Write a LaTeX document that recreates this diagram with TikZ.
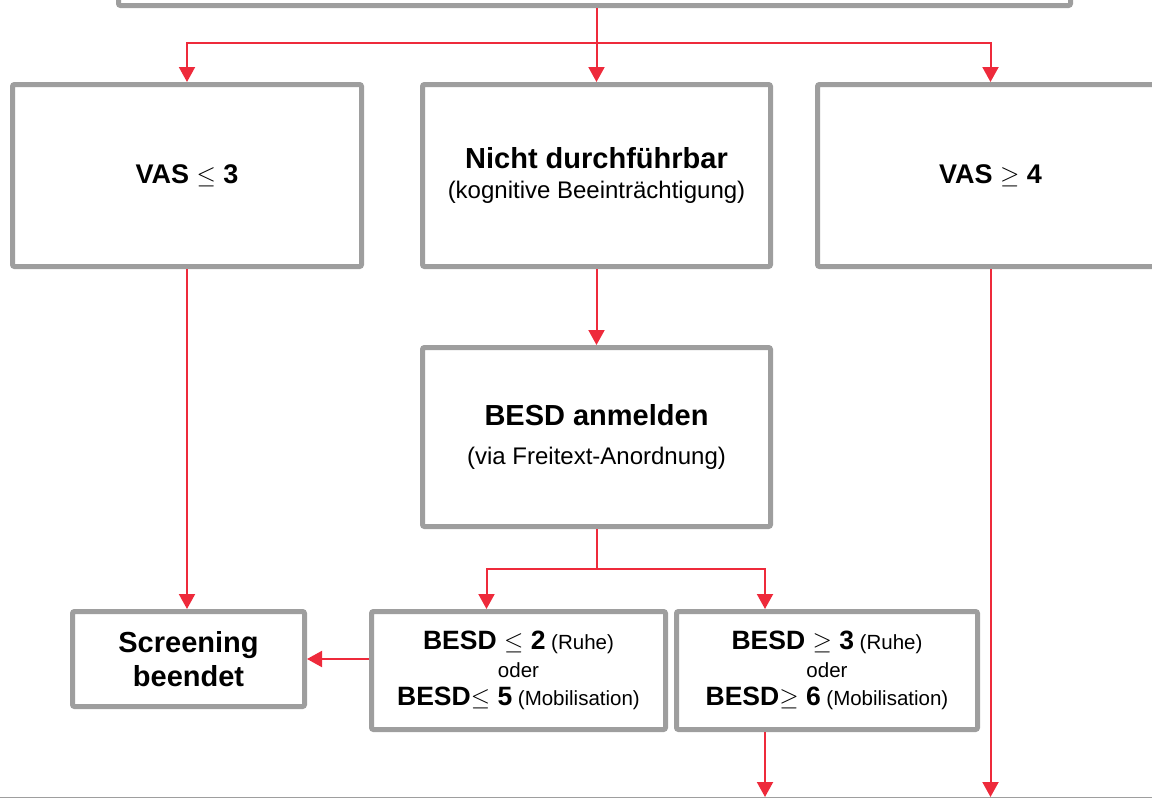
\documentclass[tikz,border=0pt]{standalone}
\usepackage{fontspec}
\setmainfont{Liberation Sans}
\usetikzlibrary{arrows.meta}
\definecolor{boxgray}{HTML}{9E9E9E}
\definecolor{arrred}{HTML}{EE2A3B}
\newcommand{\fsz}[2]{\fontsize{#1}{#2}\selectfont}
\begin{document}
\begin{tikzpicture}[x=1pt,y=-1pt,
  box/.style={draw=boxgray,line width=5pt,rounded corners=2pt,fill=white,align=center,inner sep=0pt,anchor=north west},
  link/.style={draw=arrred,line width=2pt},
  arr/.style={link,-{Triangle[length=15pt,width=16pt]}},
  bigb/.style={font=\fsz{29}{34}\bfseries},
  besdtxt/.style={font=\fsz{20.5}{28}}
]
\useasboundingbox (0,0) rectangle (1152,798);
\clip (0,0) rectangle (1152,798);
\node[box,minimum width=952pt,minimum height=60pt] (top) at (116,-57) {};
\node[box,minimum width=349pt,minimum height=182pt,font=\fsz{27}{32}\bfseries] (vas3) at (10,82) {VAS $\leq$ 3};
\node[box,minimum width=348pt,minimum height=182pt,font=\fsz{24}{27}] (nicht) at (420,82)
  {{\fsz{29}{34}\bfseries Nicht durchführbar}\\[3pt](kognitive Beeinträchtigung)};
\node[box,minimum width=346pt,minimum height=182pt,font=\fsz{27}{32}\bfseries] (vas4) at (815,82) {VAS $\geq$ 4};
\node[box,minimum width=348pt,minimum height=179pt,font=\fsz{24}{27}] (besd) at (420,345)
  {{\fsz{29}{34}\bfseries BESD anmelden}\\[12pt](via Freitext-Anordnung)};
\node[box,minimum width=232pt,minimum height=95pt,bigb] (screen) at (70,609) {Screening\\beendet};
\node[box,minimum width=294pt,minimum height=118pt,besdtxt,text depth=4pt] (le2) at (369,609)
  {{\fsz{26.5}{28}\bfseries BESD $\leq$ 2} (Ruhe)\\oder\\{\fsz{26.5}{28}\bfseries BESD$\leq$ 5} (Mobilisation)};
\node[box,minimum width=301pt,minimum height=118pt,besdtxt] (ge3) at (674,609)
  {{\fsz{26.5}{28}\bfseries BESD $\geq$ 3} (Ruhe)\\oder\\{\fsz{26.5}{28}\bfseries BESD$\geq$ 6} (Mobilisation)};
\node[box,minimum width=1200pt,minimum height=60pt] (bottom) at (-20,797) {};
\coordinate (hub) at (nicht.north |- 0,43);
\draw[link] (top.south -| nicht.north) -- (hub);
\draw[arr] (hub) -- (nicht.north);
\draw[arr] (hub) -| (vas3.north);
\draw[arr] (hub) -| (vas4.north);
\draw[arr] (nicht.south) -- (besd.north);
\coordinate (hub2) at (besd.south |- 0,569);
\draw[link] (besd.south) -- (hub2);
\draw[arr] (hub2) -| ([xshift=-32pt]le2.north);
\draw[arr] (hub2) -| ([xshift=-62pt]ge3.north);
\draw[arr] (le2.west |- screen.east) -- (screen.east);
\draw[arr] (vas3.south) -- (vas3.south |- screen.north);
\draw[arr] ([xshift=-62pt]ge3.south) -- ([xshift=-62pt]ge3.south |- bottom.north);
\draw[arr] (vas4.south) -- (vas4.south |- bottom.north);
\end{tikzpicture}
\end{document}
